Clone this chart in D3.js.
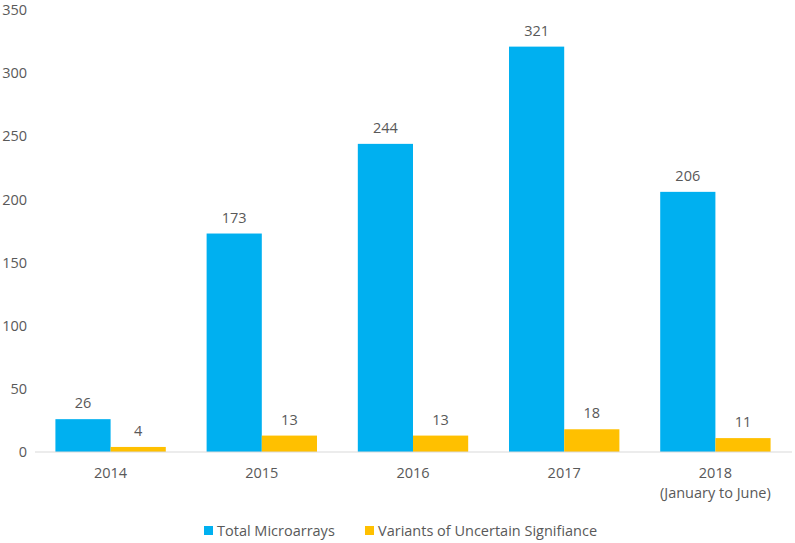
<!DOCTYPE html>
<html>
<head>
<meta charset="utf-8">
<script src="https://cdn.jsdelivr.net/npm/d3@7"></script>
<style>
  body { margin: 0; background: #fff; }
  text { font-family: "Open Sans", "Liberation Sans", sans-serif; fill: #595959; font-size: 14.5px; }
</style>
</head>
<body>
<div id="chart"></div>
<script>
const categories = ['2014', '2015', '2016', '2017', '2018'];
const categorySub = ['', '', '', '', '(January to June)'];
const seriesNames = ['Total Microarrays', 'Variants of Uncertain Signifiance'];
const totalMicroarrays = [26, 173, 244, 321, 206];
const variantsUncertain = [4, 13, 13, 18, 11];
const yTicks = [0, 50, 100, 150, 200, 250, 300, 350];
const colors = ['#00B0F0', '#FFC000'];

const width = 795, height = 543;
const margin = { top: 10, right: 4, bottom: 91, left: 35 };

const svg = d3.select('#chart').append('svg')
    .attr('width', width)
    .attr('height', height);

const x = d3.scaleBand()
    .domain(categories)
    .range([margin.left, width - margin.right])
    .paddingInner(0.27)
    .paddingOuter(0.135);

const xSub = d3.scaleBand()
    .domain([0, 1])
    .range([0, x.bandwidth()]);

const y = d3.scaleLinear()
    .domain([0, 350])
    .range([height - margin.bottom, margin.top]);

// y tick labels (no axis line)
svg.append('g')
    .selectAll('text')
    .data(yTicks)
    .enter().append('text')
    .attr('x', 27)
    .attr('y', d => y(d))
    .attr('dy', '0.35em')
    .attr('text-anchor', 'end')
    .text(d => d);

const groups = svg.append('g')
    .selectAll('g')
    .data(categories)
    .enter().append('g')
    .attr('transform', d => 'translate(' + x(d) + ',0)');

const seriesData = (i) => [totalMicroarrays[i], variantsUncertain[i]];

groups.selectAll('rect')
    .data((d, i) => seriesData(i))
    .enter().append('rect')
    .attr('x', (d, j) => xSub(j))
    .attr('width', xSub.bandwidth())
    .attr('y', d => y(d))
    .attr('height', d => y(0) - y(d))
    .attr('fill', (d, j) => colors[j]);

groups.selectAll('.val')
    .data((d, i) => seriesData(i))
    .enter().append('text')
    .attr('class', 'val')
    .attr('x', (d, j) => xSub(j) + xSub.bandwidth() / 2)
    .attr('y', d => y(d) - 11)
    .attr('text-anchor', 'middle')
    .text(d => d);

// x axis line
svg.append('line')
    .attr('x1', margin.left)
    .attr('x2', width - 3)
    .attr('y1', y(0))
    .attr('y2', y(0))
    .attr('stroke', '#d9d9d9')
    .attr('stroke-width', 1);

// category labels
const catLabels = svg.append('g')
    .selectAll('text')
    .data(categories)
    .enter().append('text')
    .attr('x', d => x(d) + x.bandwidth() / 2)
    .attr('y', y(0) + 26)
    .attr('text-anchor', 'middle');
catLabels.append('tspan').text(d => d);
catLabels.append('tspan')
    .attr('x', d => x(d) + x.bandwidth() / 2)
    .attr('dy', 20)
    .text((d, i) => categorySub[i]);

// legend
const legendX = [204, 365];
const legend = svg.append('g')
    .selectAll('g')
    .data(seriesNames)
    .enter().append('g')
    .attr('transform', (d, i) => 'translate(' + legendX[i] + ',531)');
legend.append('rect')
    .attr('x', 0)
    .attr('y', -5)
    .attr('width', 9)
    .attr('height', 9)
    .attr('fill', (d, i) => colors[i]);
legend.append('text')
    .attr('x', 13)
    .attr('y', 0)
    .attr('dy', '0.35em')
    .text(d => d);
</script>
</body>
</html>
